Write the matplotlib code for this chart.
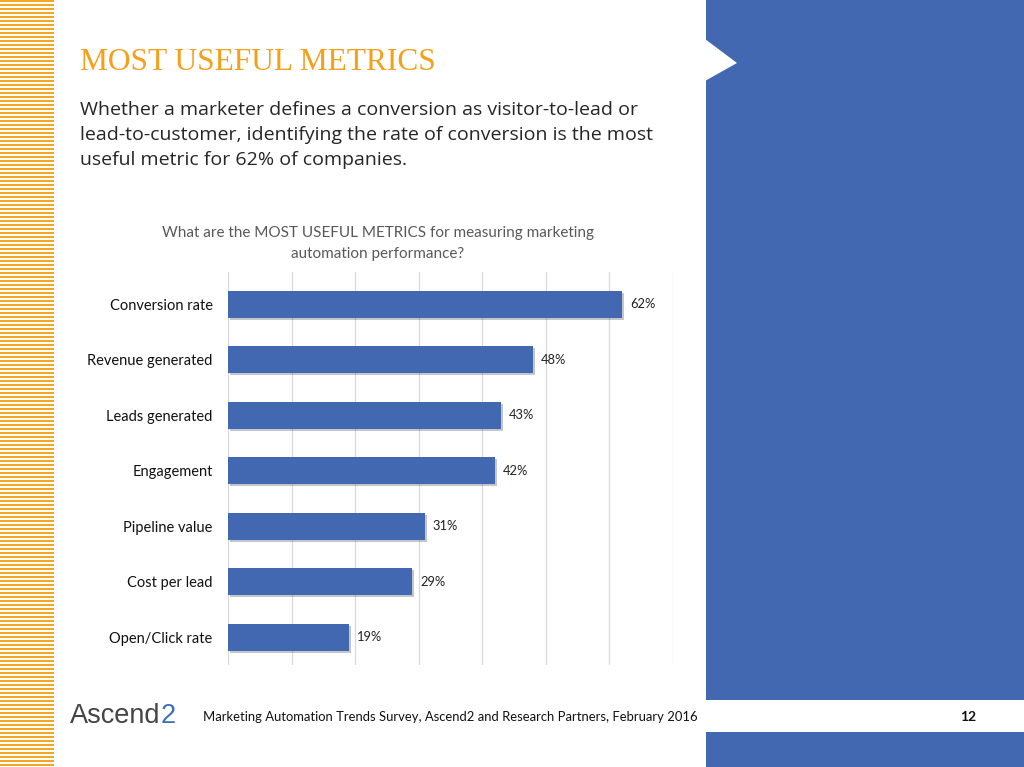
import matplotlib
matplotlib.use("Agg")
import matplotlib.pyplot as plt
from matplotlib.patches import Rectangle, Polygon
import matplotlib.patheffects as pe

categories = ["Conversion rate", "Revenue generated", "Leads generated", "Engagement",
              "Pipeline value", "Cost per lead", "Open/Click rate"]
values = [62, 48, 43, 42, 31, 29, 19]
value_labels = ["62%", "48%", "43%", "42%", "31%", "29%", "19%"]

title = "MOST USEFUL METRICS"
subtitle_lines = ["Whether a marketer defines a conversion as visitor-to-lead or",
                  "lead-to-customer, identifying the rate of conversion is the most",
                  "useful metric for 62% of companies."]
chart_title_lines = ["What are the MOST USEFUL METRICS for measuring marketing",
                     "automation performance?"]
source = "Marketing Automation Trends Survey, Ascend2 and Research Partners, February 2016"
page = "12"

W, H = 1024, 767
BLUE = "#4168B0"
ORANGE = "#F5A623"

fig = plt.figure(figsize=(W / 100, H / 100), dpi=100)
fig.patch.set_facecolor("white")

def px(x, y):
    return x / W, 1 - y / H

# left orange stripes
y = 0.0
while y < H:
    fig.patches.append(Rectangle((0, 1 - (y + 2.3) / H), 54 / W, 2.3 / H,
                                 transform=fig.transFigure, facecolor=ORANGE,
                                 edgecolor="none", zorder=0))
    y += 4.0

# right blue panel
fig.patches.append(Rectangle((706 / W, 0), 1 - 706 / W, 1, transform=fig.transFigure,
                             facecolor=BLUE, edgecolor="none", zorder=0))
# notch
fig.patches.append(Polygon([px(705, 39), px(737, 63), px(705, 81)], closed=True,
                           transform=fig.transFigure, facecolor="white",
                           edgecolor="none", zorder=1))
# footer white strip in blue panel
fig.patches.append(Rectangle((706 / W, 1 - 732 / H), 1 - 706 / W, 32 / H,
                             transform=fig.transFigure, facecolor="white",
                             edgecolor="none", zorder=1))

# texts
fig.text(*px(80, 62), title, family="Liberation Serif", fontsize=22.6,
         color="#F5A01A", va="center", ha="left")
for i, line in enumerate(subtitle_lines):
    fig.text(*px(80, 110 + 25 * i), line, family="Open Sans", fontsize=14.0,
             color="#262626", va="center", ha="left")
for i, line in enumerate(chart_title_lines):
    fig.text(*px(378, 233 + 21 * i), line, family="Lato", fontsize=11.0,
             color="#595959", va="center", ha="center")

# footer
t_logo = fig.text(*px(70, 716), "Ascend", family="Liberation Sans", fontsize=19.5,
                  color="#454545", va="center", ha="left")
fig.canvas.draw()
bb = t_logo.get_window_extent(fig.canvas.get_renderer())
fig.text((bb.x1 + 0.5) / W, 1 - 716 / H, "2", family="Liberation Sans", fontsize=19.5,
         color="#3E6FB8", va="center", ha="left")
fig.text(*px(203, 717), source, family="Lato", fontsize=9.4,
         color="#111111", va="center", ha="left")
fig.text(*px(968, 717), page, family="Lato", fontsize=10.0, fontweight="bold",
         color="#111111", va="center", ha="center")

# chart
ax = fig.add_axes([228 / W, 1 - 665 / H, 445 / W, 393 / H])
ax.set_facecolor("none")
pos = list(range(len(categories)))
bars = ax.barh(pos, values, height=0.49, color=BLUE, zorder=3)
for b in bars:
    b.set_path_effects([pe.SimplePatchShadow(offset=(1.5, -1.5), alpha=0.25), pe.Normal()])
ax.set_xlim(0, 70)
ax.set_ylim(6.5, -0.58)
ax.set_xticks(range(0, 71, 10))
ax.grid(axis="x", color="#D9D9D9", linewidth=0.9, zorder=0)
ax.tick_params(axis="x", length=0, labelbottom=False)
ax.tick_params(axis="y", length=0, pad=11)
ax.set_yticks(pos)
ax.set_yticklabels(categories, family="Lato", fontsize=10.5, color="#111111")
for s in ax.spines.values():
    s.set_visible(False)
for p, v, lab in zip(pos, values, value_labels):
    ax.text(v + 1.2, p, lab, family="Lato", fontsize=9.3, color="#222222",
            va="center", ha="left")

fig.savefig("out.png", dpi=100)
